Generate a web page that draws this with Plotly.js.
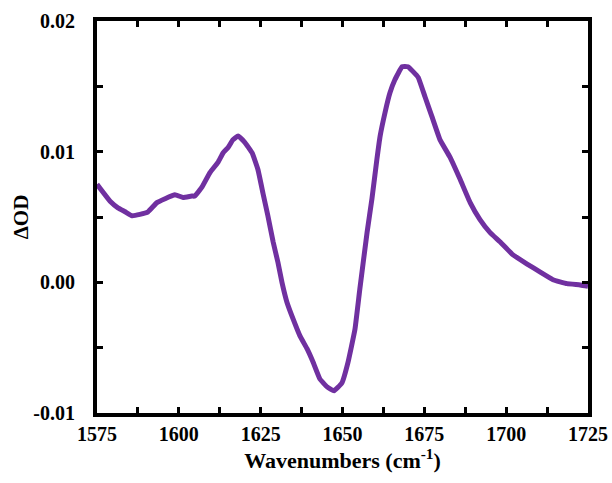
<!DOCTYPE html>
<html>
<head>
<meta charset="utf-8">
<script src="https://cdn.plot.ly/plotly-3.0.1.min.js"></script>
<style>html,body{margin:0;padding:0;background:#fff;}#chart{width:612px;height:483px;}</style>
</head>
<body>
<div id="chart"></div>
<script>
var wavenumbers = [1575.0,1576.5,1579.0,1581.4,1583.6,1585.7,1588.1,1590.6,1593.3,1595.8,1598.8,1601.3,1604.0,1604.9,1607.1,1609.5,1612.0,1613.5,1615.0,1616.5,1618.1,1620.2,1622.4,1624.2,1625.8,1627.2,1628.8,1630.3,1631.5,1633.0,1634.9,1637.0,1639.2,1641.0,1643.1,1645.3,1647.4,1649.8,1651.7,1653.8,1655.3,1657.5,1659.0,1660.5,1661.5,1663.0,1664.5,1666.0,1668.2,1670.0,1673.1,1675.2,1677.3,1679.8,1682.8,1685.9,1689.0,1692.0,1695.1,1698.1,1702.1,1706.4,1710.3,1714.3,1718.6,1722.6,1725.0];
var deltaOD = [0.0075,0.0070,0.0062,0.0057,0.0054,0.0051,0.0052,0.0054,0.0061,0.0064,0.0067,0.0065,0.0066,0.0066,0.0073,0.0084,0.0092,0.0099,0.0103,0.0109,0.0112,0.0107,0.0099,0.0086,0.0067,0.0051,0.0031,0.0015,0.0000,-0.0015,-0.0028,-0.0041,-0.0051,-0.0061,-0.0074,-0.0080,-0.0083,-0.0077,-0.0061,-0.0036,-0.0005,0.0038,0.0064,0.0094,0.0112,0.0130,0.0145,0.0155,0.0165,0.0165,0.0157,0.0142,0.0127,0.0109,0.0096,0.0079,0.0061,0.0048,0.0038,0.0031,0.0021,0.0014,0.0008,0.0002,-0.0001,-0.0002,-0.0003];
var yTickVals = [-0.01, 0.00, 0.01, 0.02];
var yTickText = ['-0.01', '0.00', '0.01', '0.02'];
var xTickVals = [1575, 1600, 1625, 1650, 1675, 1700, 1725];

var fontFam = 'Liberation Serif';
var trace = {
  x: wavenumbers, y: deltaOD, type: 'scatter', mode: 'lines',
  line: {color: '#7030A0', width: 5, shape: 'spline', smoothing: 0.3},
  hoverinfo: 'none'
};
var layout = {
  width: 612, height: 483,
  margin: {l: 97, r: 24, t: 21, b: 70},
  paper_bgcolor: '#fff', plot_bgcolor: '#fff',
  showlegend: false,
  font: {family: fontFam, color: '#000', size: 20},
  xaxis: {
    range: [1575, 1725], tickvals: xTickVals,
    ticktext: xTickVals.map(function(v){return '<b>' + v + '</b>';}),
    showgrid: false, zeroline: false,
    showline: true, linecolor: '#000', linewidth: 4, mirror: 'allticks',
    ticks: 'inside', ticklen: 6, tickwidth: 3, tickcolor: '#000',
    minor: {dtick: 12.5, ticks: 'inside', ticklen: 6, tickwidth: 3, tickcolor: '#000', showgrid: false},
    tickfont: {family: fontFam, size: 20, color: '#000'},
    title: {text: '<b>Wavenumbers (cm<sup>-1</sup>)</b>', standoff: 6, font: {family: fontFam, size: 22, color: '#000'}},
    fixedrange: true
  },
  yaxis: {
    range: [-0.01, 0.02], tickvals: yTickVals,
    ticktext: yTickText.map(function(v){return '<b>' + v + '</b>';}),
    showgrid: false, zeroline: false,
    showline: true, linecolor: '#000', linewidth: 4, mirror: 'allticks',
    ticks: 'inside', ticklen: 6, tickwidth: 3, tickcolor: '#000',
    minor: {dtick: 0.005, ticks: 'inside', ticklen: 6, tickwidth: 3, tickcolor: '#000', showgrid: false},
    tickfont: {family: fontFam, size: 20, color: '#000'},
    ticklabelstandoff: 14,
    title: {text: '<b>ΔOD</b>', standoff: 0, font: {family: fontFam, size: 21, color: '#000'}},
    fixedrange: true
  }
};
Plotly.newPlot('chart', [trace], layout, {displayModeBar: false, staticPlot: true});
</script>
</body>
</html>
